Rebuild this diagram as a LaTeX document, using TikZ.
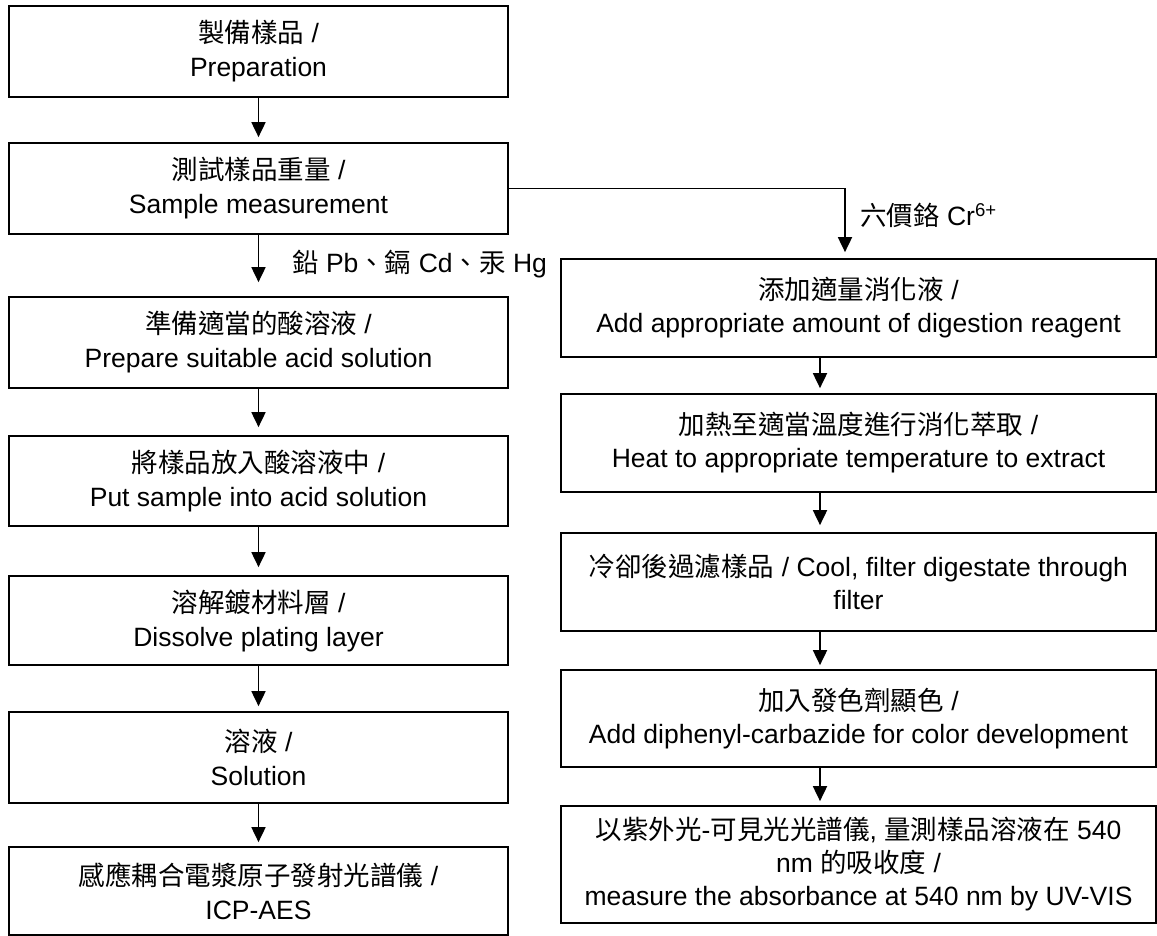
\documentclass[tikz,border=0pt]{standalone}
\usepackage{fontspec}
\setmainfont{Liberation Sans}
\newfontfamily\cjk{Noto Sans CJK TC}
\usetikzlibrary{arrows.meta}
\begin{document}
\begin{tikzpicture}[x=1pt,y=-1pt,
  box/.style={draw, line width=1.7pt, inner sep=0pt, align=center,
              font=\fontsize{26.5}{34}\selectfont},
  lbox/.style={box, minimum width=499pt},
  rbox/.style={box, minimum width=595pt, font=\fontsize{26.5}{33}\selectfont},
  arr/.style={line width=1.8pt, -{Triangle[length=15pt,width=14pt]}, shorten >=5pt},
  lab/.style={anchor=west, inner sep=0pt, font=\fontsize{26.5}{33}\selectfont}]
\useasboundingbox (0,0) rectangle (1157,936);
% left column
\node[lbox, minimum height=91pt] (L1) at (258.5,51.5) {{\cjk 製備樣品} /\\Preparation};
\node[lbox, minimum height=91pt] (L2) at (258.5,188.5) {{\cjk 測試樣品重量} /\\Sample measurement};
\node[lbox, minimum height=91pt] (L3) at (258.5,342.5) {{\cjk 準備適當的酸溶液} /\\Prepare suitable acid solution};
\node[lbox, minimum height=90pt] (L4) at (258.5,481) {{\cjk 將樣品放入酸溶液中} /\\Put sample into acid solution};
\node[lbox, minimum height=89pt] (L5) at (258.5,620.5) {{\cjk 溶解鍍材料層} /\\Dissolve plating layer};
\node[lbox, minimum height=91pt] (L6) at (258.5,757.5) {{\cjk 溶液} /\\Solution};
\node[lbox, minimum height=88pt] (L7) at (258.5,891) {{\cjk 感應耦合電漿原子發射光譜儀} /\\ICP-AES};
% right column
\node[rbox, minimum height=98pt] (R1) at (858.5,308) {{\cjk 添加適量消化液} /\\Add appropriate amount of digestion reagent};
\node[rbox, minimum height=98pt] (R2) at (858.5,443) {{\cjk 加熱至適當溫度進行消化萃取} /\\Heat to appropriate temperature to extract};
\node[rbox, minimum height=98pt] (R3) at (858.5,582) {{\cjk 冷卻後過濾樣品} / Cool, filter digestate through\\filter};
\node[rbox, minimum height=97pt] (R4) at (858.5,718.5) {{\cjk 加入發色劑顯色} /\\Add diphenyl-carbazide for color development};
\node[rbox, minimum height=117pt] (R5) at (858.5,864.5) {{\cjk 以紫外光}-{\cjk 可見光光譜儀}, {\cjk 量測樣品溶液在} 540\\nm {\cjk 的吸收度} /\\measure the absorbance at 540 nm by UV-VIS};
% labels
\node[lab] (lab1) at (292,264) {{\cjk 鉛} Pb{\cjk 、鎘} Cd{\cjk 、汞} Hg};
\node[lab] (lab2) at (860,215) {{\cjk 六價鉻} Cr\textsuperscript{6+}};
% helper coordinates
\coordinate (rx) at (820,0);
\coordinate (bx) at (845,0);
% left arrows
\draw[arr] (L1) -- (L2);
\draw[arr, shorten >=14pt] (L2) -- (L3);
\draw[arr, shorten >=8pt] (L3) -- (L4);
\draw[arr, shorten >=8pt] (L4) -- (L5);
\draw[arr] (L5) -- (L6);
\draw[arr, shorten >=4pt] (L6) -- (L7);
% branch
\draw[arr, shorten >=6pt] (L2.east) -| (R1.north -| bx);
% right arrows
\draw[arr] (R1.south -| rx) -- (R2.north -| rx);
\draw[arr, shorten >=7pt] (R2.south -| rx) -- (R3.north -| rx);
\draw[arr, shorten >=4pt] (R3.south -| rx) -- (R4.north -| rx);
\draw[arr, shorten >=4pt] (R4.south -| rx) -- (R5.north -| rx);
\end{tikzpicture}
\end{document}
